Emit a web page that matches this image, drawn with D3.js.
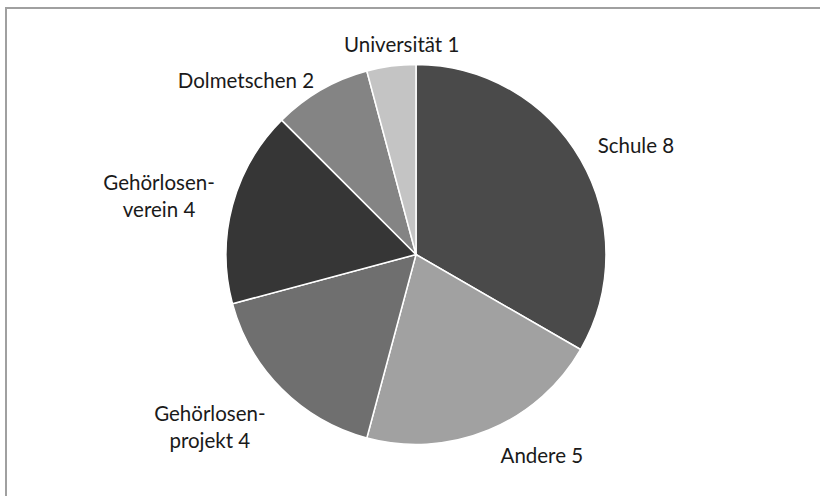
<!DOCTYPE html>
<meta charset="utf-8">
<title>Pie Chart</title>
<script src="https://d3js.org/d3.v7.min.js"></script>
<style>
  body { margin: 0; background: #fff; }
  text { font-family: Lato, "Open Sans", sans-serif; font-size: 20.5px; fill: #1a1a1a; }
</style>
<div id="chart"></div>
<script>

  // data
  var categories = ["Schule", "Andere", "Gehörlosen-projekt", "Gehörlosen-verein", "Dolmetschen", "Universität"];
  var values = [8, 5, 4, 4, 2, 1];
  var colors = ["#4a4a4a", "#a1a1a1", "#6f6f6f", "#363636", "#848484", "#c4c4c4"];

  var width = 820, height = 496;
  var cx = 416, cy = 254.5, radius = 190;
  // label placement (layout only): angle nudge in degrees, distance beyond pie edge
  var labelNudge = [3.6, -9.6, 5.1, -2, -14.2, 3.6];
  var labelGap = [55.5, 46.8, 78.7, 73.7, 53.9, 21];

  var svg = d3.select("#chart").append("svg")
    .attr("width", width)
    .attr("height", height);

  // frame
  svg.append("rect")
    .attr("x", 6).attr("y", 8)
    .attr("width", width).attr("height", height)
    .attr("fill", "none")
    .attr("stroke", "#a0a0a0")
    .attr("stroke-width", 2);

  var data = categories.map(function (c, i) { return { name: c, value: values[i], color: colors[i] }; });

  var pie = d3.pie().sort(null).value(function (d) { return d.value; });
  var arc = d3.arc().innerRadius(0).outerRadius(radius);

  var g = svg.append("g").attr("transform", "translate(" + cx + "," + cy + ")");

  var arcs = pie(data);

  g.selectAll("path")
    .data(arcs)
    .enter().append("path")
    .attr("d", arc)
    .attr("fill", function (d) { return d.data.color; })
    .attr("stroke", "#fff")
    .attr("stroke-width", 1.5)
    .attr("stroke-linejoin", "round");

  var lineH = 27;

  var labels = g.selectAll("text.label")
    .data(arcs)
    .enter().append("text")
    .attr("class", "label")
    .attr("text-anchor", "middle");

  labels.each(function (d, i) {
    var t = d3.select(this);
    var parts = d.data.name.split("-");
    var lines = parts.length > 1 ? [parts[0] + "-", parts[1] + " " + d.data.value] : [parts[0] + " " + d.data.value];
    lines.forEach(function (l, k) {
      t.append("tspan").attr("x", 0).attr("dy", k === 0 ? 0 : lineH).text(l);
    });
    var bb = this.getBBox();
    var a = (d.startAngle + d.endAngle) / 2 + labelNudge[i] * Math.PI / 180;
    var r = radius + labelGap[i];
    var px = r * Math.sin(a);
    var py = -r * Math.cos(a);
    // put the box centre at (px, py)
    var dx = px - (bb.x + bb.width / 2);
    var dy = py - (bb.y + bb.height / 2);
    t.attr("transform", "translate(" + dx + "," + dy + ")");
  });

</script>
